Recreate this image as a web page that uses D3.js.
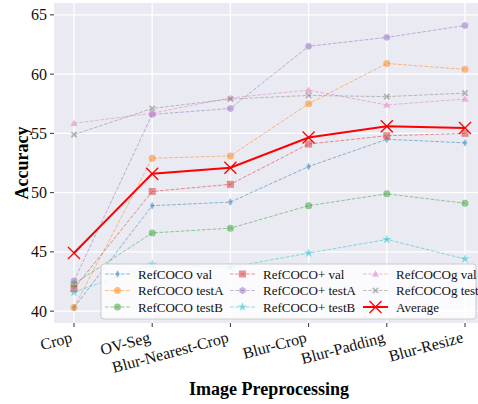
<!DOCTYPE html>
<html><head><meta charset="utf-8">
<script src="https://cdn.jsdelivr.net/npm/d3@7"></script>
<style>body{margin:0;background:#fff}svg{display:block}</style>
</head><body>
<svg id="c" width="478" height="404"></svg>
<script>
const categories = ["Crop","OV-Seg","Blur-Nearest-Crop","Blur-Crop","Blur-Padding","Blur-Resize"];
const refcocoVal   = [40.3, 48.9, 49.2, 52.2, 54.5, 54.2];
const refcocoTestA = [40.3, 52.9, 53.1, 57.5, 60.9, 60.4];
const refcocoTestB = [42.3, 46.6, 47.0, 48.9, 49.9, 49.1];
const refcocoPVal  = [41.9, 50.1, 50.7, 54.1, 54.8, 55.0];
const refcocoPTestA= [42.55, 56.6, 57.1, 62.35, 63.1, 64.1];
const refcocoPTestB= [41.6, 43.95, 43.7, 44.9, 46.05, 44.4];
const refcocogVal  = [55.85, 56.7, 58.0, 58.65, 57.4, 57.9];
const refcocogTest = [54.9, 57.1, 57.9, 58.2, 58.1, 58.4];
const average      = [44.9, 51.6, 52.1, 54.65, 55.6, 55.45];
const yTicks = [40,45,50,55,60,65];

const series = [
  {name:"RefCOCO val", vals:refcocoVal, color:"#1f77b4", marker:"thindiamond"},
  {name:"RefCOCO testA", vals:refcocoTestA, color:"#ff7f0e", marker:"circle"},
  {name:"RefCOCO testB", vals:refcocoTestB, color:"#2ca02c", marker:"circle"},
  {name:"RefCOCO+ val", vals:refcocoPVal, color:"#d62728", marker:"square"},
  {name:"RefCOCO+ testA", vals:refcocoPTestA, color:"#9467bd", marker:"hexagon"},
  {name:"RefCOCO+ testB", vals:refcocoPTestB, color:"#17becf", marker:"star"},
  {name:"RefCOCOg val", vals:refcocogVal, color:"#e377c2", marker:"triangle"},
  {name:"RefCOCOg test", vals:refcocogTest, color:"#7f7f7f", marker:"xfilled"},
];

const FONT = '"Liberation Serif"';
const svg = d3.select("#c");
const L=54, R=478, T=3, B=323;
const x = d3.scalePoint().domain(categories).range([74, 465]);
const y = d3.scaleLinear().domain([39, 66]).range([B, T]);

svg.append("rect").attr("x",L).attr("y",T).attr("width",R-L).attr("height",B-T).attr("fill","#eaeaf2");

svg.append("g").selectAll("line").data(yTicks).join("line")
  .attr("x1",L).attr("x2",R).attr("y1",d=>y(d)).attr("y2",d=>y(d))
  .attr("stroke","#fff").attr("stroke-width",1.3);
svg.append("g").selectAll("line").data(categories).join("line")
  .attr("y1",T).attr("y2",B).attr("x1",d=>x(d)).attr("x2",d=>x(d))
  .attr("stroke","#fff").attr("stroke-width",1.3);

function markerPath(type, s){
  const h=s/2;
  switch(type){
    case "circle": return d3.symbol(d3.symbolCircle, s*s*0.785)();
    case "square": return `M${-h},${-h}H${h}V${h}H${-h}Z`;
    case "thindiamond": return `M0,${-h*1.1}L${h*0.65},0L0,${h*1.1}L${-h*0.65},0Z`;
    case "triangle": return `M0,${-h*1.05}L${h*1.05},${h*0.75}L${-h*1.05},${h*0.75}Z`;
    case "hexagon": {
      let p=[];for(let i=0;i<6;i++){const a=Math.PI/6+i*Math.PI/3;p.push([h*1.05*Math.cos(a),h*1.05*Math.sin(a)]);}
      return "M"+p.map(q=>q.join(",")).join("L")+"Z";}
    case "star": return d3.symbol(d3.symbolStar, s*s*0.55)();
    case "xfilled": {
      const a=h*0.95, w=h*0.38;
      const pts=[[0,-w],[a-w,-a],[a,-a+w],[w,0],[a,a-w],[a-w,a],[0,w],[-a+w,a],[-a,a-w],[-w,0],[-a,-a+w],[-a+w,-a]];
      return "M"+pts.map(q=>q.join(",")).join("L")+"Z";}
  }
}

const line = d3.line().x((d,i)=>x(categories[i])).y(d=>y(d));
series.forEach(s=>{
  svg.append("path").attr("d",line(s.vals)).attr("fill","none")
    .attr("stroke",s.color).attr("stroke-opacity",0.5).attr("stroke-width",1).attr("stroke-dasharray","3.7,1.6");
  svg.append("g").selectAll("path").data(s.vals).join("path")
    .attr("transform",(d,i)=>`translate(${x(categories[i])},${y(d)})`)
    .attr("d",markerPath(s.marker,7)).attr("fill",s.color).attr("fill-opacity",0.5);
});
svg.append("path").attr("d",line(average)).attr("fill","none").attr("stroke","#ff0000").attr("stroke-width",2);
const xm = "M-6,-6L6,6M-6,6L6,-6";
svg.append("g").selectAll("path").data(average).join("path")
  .attr("transform",(d,i)=>`translate(${x(categories[i])},${y(d)})`)
  .attr("d",xm).attr("stroke","#ff0000").attr("stroke-width",1.3).attr("fill","none");

svg.append("g").selectAll("line").data(yTicks).join("line")
  .attr("x1",L-4).attr("x2",L).attr("y1",d=>y(d)).attr("y2",d=>y(d)).attr("stroke","#333").attr("stroke-width",1);
svg.append("g").selectAll("text").data(yTicks).join("text")
  .attr("x",L-7).attr("y",d=>y(d)).attr("dy","0.35em").attr("text-anchor","end")
  .style("font-family",FONT).style("font-size","16px").attr("fill","#111").text(d=>d);
svg.append("g").selectAll("line").data(categories).join("line")
  .attr("x1",d=>x(d)).attr("x2",d=>x(d)).attr("y1",B).attr("y2",B+4).attr("stroke","#333");
svg.append("g").selectAll("text").data(categories).join("text")
  .attr("transform",d=>`translate(${x(d)-1},${B+19}) rotate(-15)`)
  .attr("text-anchor","end")
  .style("font-family",FONT).style("font-size","16px").attr("fill","#111").text(d=>d);

svg.append("text").attr("transform",`translate(28,${(T+B)/2}) rotate(-90)`).attr("text-anchor","middle")
  .style("font-family",FONT).style("font-weight","bold").style("font-size","18px").text("Accuracy");
svg.append("text").attr("x",269).attr("y",395).attr("text-anchor","middle")
  .style("font-family",FONT).style("font-weight","bold").style("font-size","18px").text("Image Preprocessing");

const lg = svg.append("g");
lg.append("rect").attr("x",101).attr("y",264).attr("width",375).attr("height",55).attr("rx",3)
  .attr("fill","#fff").attr("fill-opacity",0.8).attr("stroke","#ccc").attr("stroke-width",1);
const colX=[105,230,363], rowY=[274,290.5,307];
const items = series.map(s=>({...s}));
items.push({name:"Average", avg:true});
items.forEach((it,i)=>{
  const c=Math.floor(i/3), r=i%3;
  const g=lg.append("g").attr("transform",`translate(${colX[c]},${rowY[r]})`);
  if(it.avg){
    g.append("line").attr("x1",0).attr("x2",25).attr("stroke","#ff0000").attr("stroke-width",2);
    g.append("path").attr("transform","translate(12.5,0)").attr("d",xm).attr("stroke","#ff0000").attr("stroke-width",1.3);
  } else {
    g.append("line").attr("x1",0).attr("x2",25).attr("stroke",it.color).attr("stroke-opacity",0.5).attr("stroke-dasharray","3.7,1.6");
    g.append("path").attr("transform","translate(12.5,0)").attr("d",markerPath(it.marker,7)).attr("fill",it.color).attr("fill-opacity",0.5);
  }
  g.append("text").attr("x",33).attr("dy","0.35em").style("font-family",FONT).style("font-size","13px").attr("fill","#111").text(it.name);
});
</script>
</body></html>
